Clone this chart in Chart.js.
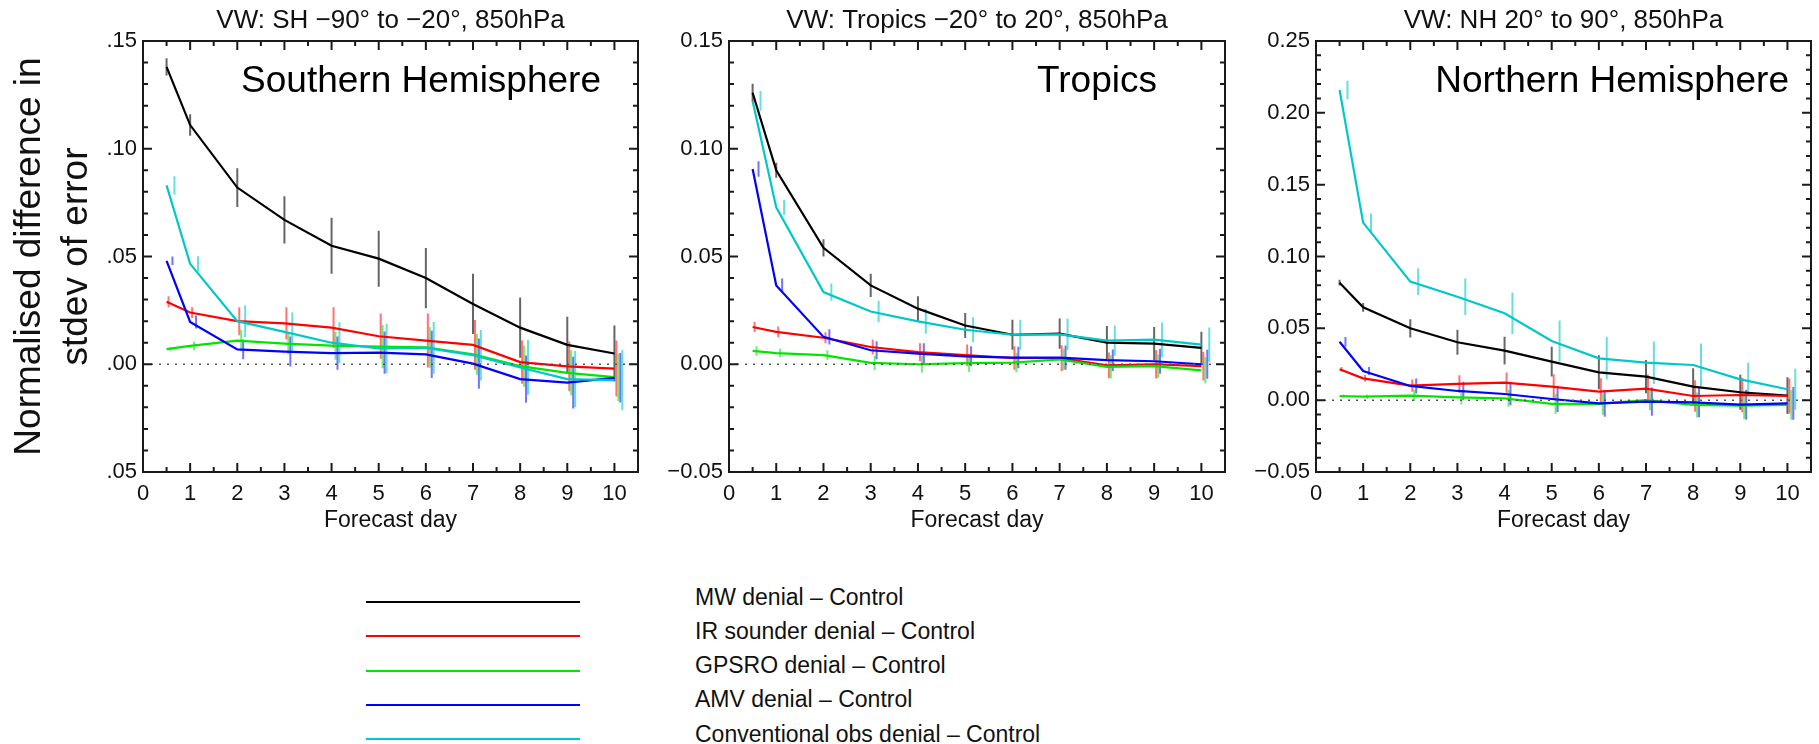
<!DOCTYPE html>
<html>
<head>
<meta charset="utf-8">
<title>VW 850hPa - normalised difference in stdev of error</title>
<script src="https://cdn.jsdelivr.net/npm/chart.js@4.4.1/dist/chart.umd.min.js"></script>
<style>
  html, body { margin: 0; padding: 0; background: #fff; }
  #wrap { position: relative; width: 1819px; height: 744px; overflow: hidden;
          font-family: "Liberation Sans", Arial, Helvetica, sans-serif; }
  #wrap canvas { position: absolute; top: 0; }
  .leg-line { position: absolute; left: 366px; width: 214px; height: 2px; }
  .leg-text { position: absolute; left: 695px; font-size: 23px; line-height: 23px;
              white-space: nowrap; color: #111; }
</style>
</head>
<body>
<div id="wrap">
  <canvas id="sh" width="660" height="540" style="left:0px"></canvas>
  <canvas id="tr" width="580" height="540" style="left:660px"></canvas>
  <canvas id="nh" width="579" height="540" style="left:1240px"></canvas>
  <div id="legend"></div>
</div>
<script>
// forecast days (x) and tick labels
const days = [0.5, 1, 2, 3, 4, 5, 6, 7, 8, 9, 10];
const xTicks = [0, 1, 2, 3, 4, 5, 6, 7, 8, 9, 10];

const seriesNames = ['MW denial \u2013 Control', 'IR sounder denial \u2013 Control',
  'GPSRO denial \u2013 Control', 'AMV denial \u2013 Control', 'Conventional obs denial \u2013 Control'];
const seriesColors = ['#000000', '#ff0000', '#00e600', '#0000ff', '#00c8c8'];
const barColors = ['rgba(0,0,0,0.6)', 'rgba(255,0,0,0.55)', 'rgba(0,220,0,0.55)', 'rgba(0,0,255,0.55)', 'rgba(0,200,200,0.6)'];
const barOffsets = [0, 0.042, 0.083, 0.125, 0.167]; // days

// Southern Hemisphere
const shMW      = [0.138, 0.111, 0.082, 0.067, 0.055, 0.049, 0.040, 0.028, 0.017, 0.009, 0.005];
const shMWErr   = [0.004, 0.005, 0.009, 0.011, 0.013, 0.013, 0.014, 0.014, 0.014, 0.013, 0.013];
const shIR      = [0.029, 0.024, 0.020, 0.019, 0.017, 0.013, 0.011, 0.009, 0.001, -0.001, -0.002];
const shIRErr   = [0.0025, 0.0025, 0.0065, 0.0075, 0.0095, 0.0105, 0.0125, 0.0115, 0.010, 0.0115, 0.013];
const shGPS     = [0.007, 0.0085, 0.011, 0.0096, 0.0086, 0.0082, 0.0079, 0.0046, -0.0009, -0.004, -0.006];
const shGPSErr  = [0.001, 0.002, 0.005, 0.005, 0.0065, 0.010, 0.0095, 0.0095, 0.0095, 0.0105, 0.011];
const shAMV     = [0.048, 0.0196, 0.0069, 0.0059, 0.0052, 0.0054, 0.0046, 0.0003, -0.0069, -0.0085, -0.0063];
const shAMVErr  = [0.002, 0.003, 0.0046, 0.007, 0.0077, 0.0098, 0.011, 0.0117, 0.011, 0.012, 0.0115];
const shConv    = [0.083, 0.0466, 0.020, 0.015, 0.010, 0.0073, 0.0076, 0.0042, -0.0015, -0.0069, -0.0074];
const shConvErr = [0.0042, 0.0035, 0.0073, 0.009, 0.0095, 0.0115, 0.012, 0.0117, 0.0127, 0.013, 0.014];

// Tropics
const trMW      = [0.126, 0.090, 0.054, 0.0366, 0.0258, 0.018, 0.0137, 0.0142, 0.010, 0.0096, 0.0076];
const trMWErr   = [0.0042, 0.0035, 0.004, 0.0054, 0.0058, 0.0058, 0.007, 0.007, 0.0077, 0.0077, 0.0075];
const trIR      = [0.0173, 0.015, 0.0123, 0.008, 0.0056, 0.0042, 0.0029, 0.0028, -0.0005, 0.0, -0.0009];
const trIRErr   = [0.0023, 0.0025, 0.0025, 0.0035, 0.0042, 0.005, 0.0054, 0.006, 0.006, 0.0066, 0.0066];
const trGPS     = [0.0062, 0.0052, 0.0042, 0.0006, 0.0, 0.0005, 0.0008, 0.0022, -0.0012, -0.0009, -0.0028];
const trGPSErr  = [0.0022, 0.002, 0.0023, 0.0034, 0.004, 0.0041, 0.0045, 0.005, 0.0054, 0.0054, 0.006];
const trAMV     = [0.0906, 0.0366, 0.0127, 0.0065, 0.0049, 0.0037, 0.0031, 0.0031, 0.0019, 0.0014, 0.0];
const trAMVErr  = [0.0036, 0.0032, 0.0035, 0.0042, 0.0048, 0.0046, 0.005, 0.0056, 0.005, 0.0058, 0.0067];
const trConv    = [0.1222, 0.0728, 0.0335, 0.0245, 0.0199, 0.016, 0.0137, 0.0139, 0.011, 0.0114, 0.0091];
const trConvErr = [0.0046, 0.0035, 0.004, 0.005, 0.0058, 0.0058, 0.007, 0.0073, 0.007, 0.008, 0.008];

// Northern Hemisphere
const nhMW      = [0.0818, 0.0646, 0.050, 0.0403, 0.0345, 0.0268, 0.0194, 0.0164, 0.0094, 0.0055, 0.0032];
const nhMWErr   = [0.002, 0.0031, 0.0063, 0.0087, 0.0096, 0.0104, 0.0118, 0.0116, 0.0128, 0.0122, 0.0128];
const nhIR      = [0.0215, 0.0152, 0.0101, 0.0113, 0.0122, 0.0094, 0.0059, 0.008, 0.0029, 0.0036, 0.0029];
const nhIRErr   = [0.0015, 0.0023, 0.0043, 0.0061, 0.007, 0.0087, 0.0093, 0.0099, 0.011, 0.012, 0.0122];
const nhGPS     = [0.0029, 0.0025, 0.0032, 0.002, 0.0013, -0.0026, -0.0026, 0.0, -0.0033, -0.0038, -0.0033];
const nhGPSErr  = [0.001, 0.0015, 0.004, 0.005, 0.0058, 0.007, 0.0075, 0.007, 0.0087, 0.0093, 0.0104];
const nhAMV     = [0.0407, 0.0203, 0.0099, 0.0064, 0.0043, 0.0008, -0.0022, -0.001, -0.0015, -0.0031, -0.0022];
const nhAMVErr  = [0.0033, 0.0027, 0.0052, 0.0064, 0.0078, 0.009, 0.0093, 0.0099, 0.0104, 0.0104, 0.0114];
const nhConv    = [0.2159, 0.1236, 0.0825, 0.072, 0.0605, 0.0412, 0.0291, 0.0261, 0.0245, 0.0145, 0.0076];
const nhConvErr = [0.0065, 0.0064, 0.0093, 0.0127, 0.0145, 0.0142, 0.0148, 0.0148, 0.015, 0.0116, 0.0142];

// y ticks and their (visible) labels
const shYTicks  = [-0.05, 0, 0.05, 0.10, 0.15];
const shYLabels = ['.05', '.00', '.05', '.10', '.15'];
const trYTicks  = [-0.05, 0, 0.05, 0.10, 0.15];
const trYLabels = ['\u22120.05', '0.00', '0.05', '0.10', '0.15'];
const nhYTicks  = [-0.05, 0, 0.05, 0.10, 0.15, 0.20, 0.25];
const nhYLabels = ['\u22120.05', '0.00', '0.05', '0.10', '0.15', '0.20', '0.25'];

const FONT = '"Liberation Sans", Arial, Helvetica, sans-serif';
Chart.defaults.font.family = FONT;
Chart.defaults.color = '#111';

// IDL style box: frame, inward ticks on all sides, dotted zero line
const boxPlugin = {
    id: 'idlBox',
    afterDatasetsDraw(chart, args, opts) {
        const {ctx, chartArea: a} = chart;
        const x = chart.scales.x, y = chart.scales.y;
        ctx.save();
        // zero line
        const y0 = y.getPixelForValue(0);
        ctx.strokeStyle = '#555';
        ctx.lineWidth = 1.5;
        ctx.setLineDash([2, 6]);
        ctx.beginPath();
        ctx.moveTo(a.left, y0);
        ctx.lineTo(a.right, y0);
        ctx.stroke();
        ctx.setLineDash([]);

        ctx.strokeStyle = '#1a1a1a';
        ctx.lineWidth = 2;
        ctx.strokeRect(a.left, a.top, a.right - a.left, a.bottom - a.top);
        ctx.beginPath();
        for (let v = x.min; v <= x.max + 1e-9; v += 0.5) {
            const len = Math.abs(v - Math.round(v)) < 1e-6 ? 9 : 5;
            const px = x.getPixelForValue(v);
            ctx.moveTo(px, a.bottom); ctx.lineTo(px, a.bottom - len);
            ctx.moveTo(px, a.top); ctx.lineTo(px, a.top + len);
        }
        for (let k = 0; k <= Math.round((y.max - y.min) / 0.01); k++) {
            const v = y.min + k * 0.01;
            const len = k % 5 === 0 ? 9 : 5;
            const py = y.getPixelForValue(v);
            ctx.moveTo(a.left, py); ctx.lineTo(a.left + len, py);
            ctx.moveTo(a.right, py); ctx.lineTo(a.right - len, py);
        }
        ctx.stroke();
        ctx.restore();
    }
};

// region label inside the plot
const insetPlugin = {
    id: 'inset',
    afterDraw(chart, args, opts) {
        const {ctx, chartArea: a} = chart;
        ctx.save();
        ctx.font = '37px ' + FONT;
        ctx.fillStyle = '#000';
        ctx.textAlign = 'right';
        ctx.textBaseline = 'alphabetic';
        ctx.fillText(opts.text, a.right - opts.right, a.top + 51);
        ctx.restore();
    }
};

function makePanel(cfg) {
    const datasets = [];
    cfg.series.forEach((vals, k) => {
        const errs = cfg.errors[k];
        // error bars: one vertical segment per point, broken by nulls
        const bars = [];
        days.forEach((d, i) => {
            bars.push({x: d + barOffsets[k], y: vals[i] - errs[i]});
            bars.push({x: d + barOffsets[k], y: vals[i] + errs[i]});
            bars.push({x: d + barOffsets[k], y: null});
        });
        datasets.push({
            data: bars, borderColor: barColors[k], borderWidth: 2,
            pointRadius: 0, spanGaps: false, order: 10 + (5 - k)
        });
        datasets.push({
            label: seriesNames[k],
            data: days.map((d, i) => ({x: d, y: vals[i]})),
            borderColor: seriesColors[k], borderWidth: 2.2,
            pointRadius: 0, tension: 0, order: 5 - k
        });
    });

    return new Chart(document.getElementById(cfg.id), {
        type: 'line',
        data: {datasets},
        plugins: [boxPlugin, insetPlugin],
        options: {
            responsive: false,
            animation: false,
            devicePixelRatio: 1,
            layout: {padding: {left: 0, top: 0, right: cfg.padRight, bottom: 6}},
            scales: {
                x: {
                    type: 'linear', min: 0, max: 10.5,
                    afterBuildTicks: s => { s.ticks = xTicks.map(v => ({value: v})); },
                    afterFit: s => { s.height = 62; },
                    grid: {display: false, drawTicks: false},
                    border: {display: false},
                    ticks: {autoSkip: false, maxRotation: 0, minRotation: 0, padding: 9,
                            font: {size: 22}, callback: v => String(v)},
                    title: {display: true, text: 'Forecast day', font: {size: 23}, padding: 0}
                },
                y: {
                    type: 'linear', min: cfg.yMin, max: cfg.yMax,
                    afterBuildTicks: s => { s.ticks = cfg.yTicks.map(v => ({value: v})); },
                    afterFit: s => { s.width = cfg.plotLeft; },
                    grid: {display: false, drawTicks: false},
                    border: {display: false},
                    ticks: {padding: 6, font: {size: 22}, callback: (v, i) => cfg.yLabels[i]},
                    title: cfg.yTitle ? {
                        display: true, text: ['Normalised difference in', 'stdev of error'],
                        font: {size: 37, lineHeight: 1.27}, padding: {top: 6, bottom: 0}, color: '#111'
                    } : {display: false}
                }
            },
            plugins: {
                legend: {display: false},
                tooltip: {enabled: false},
                title: {display: true, fullSize: false, text: cfg.title,
                        font: {size: 26, weight: 'normal'},
                        padding: {top: 5.4, bottom: 4.4}, color: '#111'},
                inset: {text: cfg.inset, right: cfg.insetRight}
            }
        }
    });
}

makePanel({
    id: 'sh', plotLeft: 143, padRight: 22, yMin: -0.05, yMax: 0.15,
    yTicks: shYTicks, yLabels: shYLabels, yTitle: true,
    title: 'VW: SH \u221290\u00b0 to \u221220\u00b0, 850hPa', inset: 'Southern Hemisphere', insetRight: 37,
    series: [shMW, shIR, shGPS, shAMV, shConv],
    errors: [shMWErr, shIRErr, shGPSErr, shAMVErr, shConvErr]
});
makePanel({
    id: 'tr', plotLeft: 69, padRight: 15, yMin: -0.05, yMax: 0.15,
    yTicks: trYTicks, yLabels: trYLabels, yTitle: false,
    title: 'VW: Tropics \u221220\u00b0 to 20\u00b0, 850hPa', inset: 'Tropics', insetRight: 68,
    series: [trMW, trIR, trGPS, trAMV, trConv],
    errors: [trMWErr, trIRErr, trGPSErr, trAMVErr, trConvErr]
});
makePanel({
    id: 'nh', plotLeft: 76, padRight: 8, yMin: -0.05, yMax: 0.25,
    yTicks: nhYTicks, yLabels: nhYLabels, yTitle: false,
    title: 'VW: NH 20\u00b0 to 90\u00b0, 850hPa', inset: 'Northern Hemisphere', insetRight: 22,
    series: [nhMW, nhIR, nhGPS, nhAMV, nhConv],
    errors: [nhMWErr, nhIRErr, nhGPSErr, nhAMVErr, nhConvErr]
});

// legend below the panels
const legendBox = document.getElementById('legend');
const legendTop = 602, legendGap = 34.3;
seriesNames.forEach((name, k) => {
    const y = legendTop + k * legendGap;
    const line = document.createElement('div');
    line.className = 'leg-line';
    line.style.top = (y - 1) + 'px';
    line.style.background = seriesColors[k];
    legendBox.appendChild(line);
    const txt = document.createElement('div');
    txt.className = 'leg-text';
    txt.style.top = (y - 16.5) + 'px';
    txt.textContent = name;
    legendBox.appendChild(txt);
});
</script>
</body>
</html>
